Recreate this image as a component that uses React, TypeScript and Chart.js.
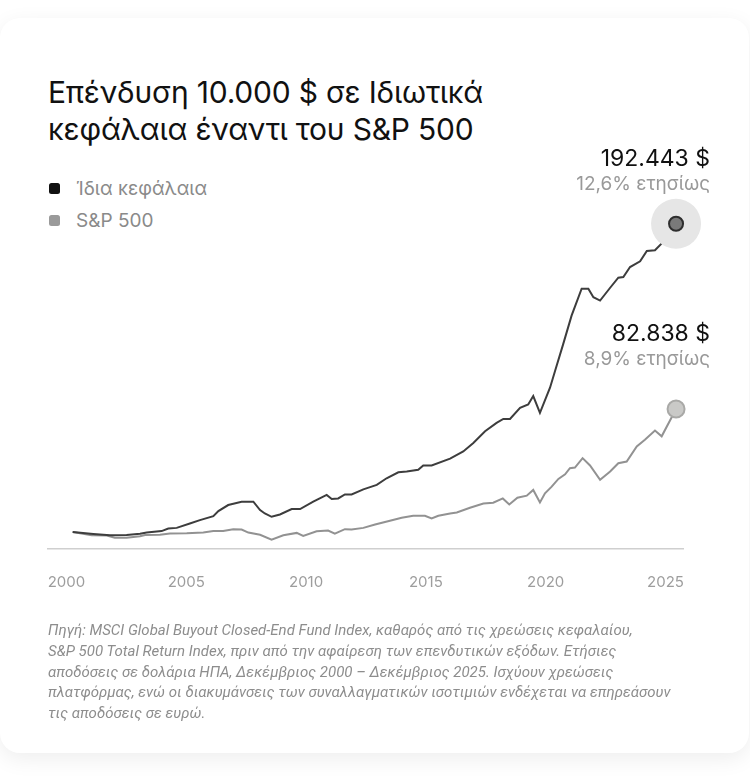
import React, { useEffect, useRef } from "react";
import { Chart, registerables } from "chart.js";

Chart.register(...registerables);

const titleLines = ["Επένδυση 10.000 $ σε Ιδιωτικά", "κεφάλαια έναντι του S&P 500"];
const seriesNames = ["Ίδια κεφάλαια", "S&P 500"];
const endValueLabels = ["192.443 $", "82.838 $"];
const endRateLabels = ["12,6% ετησίως", "8,9% ετησίως"];
const xTickYears = [2000, 2005, 2010, 2015, 2020, 2025];
const footnoteLines = [
  "Πηγή: MSCI Global Buyout Closed-End Fund Index, καθαρός από τις χρεώσεις κεφαλαίου,",
  "S&P 500 Total Return Index, πριν από την αφαίρεση των επενδυτικών εξόδων. Ετήσιες",
  "αποδόσεις σε δολάρια ΗΠΑ, Δεκέμβριος 2000 – Δεκέμβριος 2025. Ισχύουν χρεώσεις",
  "πλατφόρμας, ενώ οι διακυμάνσεις των συναλλαγματικών ισοτιμιών ενδέχεται να επηρεάσουν",
  "τις αποδόσεις σε ευρώ.",
];

const privateYears = [
  2000.26, 2001.12, 2001.82, 2002.51, 2003.07, 2003.35, 2003.97, 2004.25, 2004.6, 2005.15,
  2005.57, 2006.13, 2006.34, 2006.75, 2007.31, 2007.8, 2008.08, 2008.28, 2008.56, 2008.91,
  2009.4, 2009.75, 2010.3, 2010.86, 2011.07, 2011.34, 2011.62, 2011.9, 2012.39, 2012.95,
  2013.36, 2013.85, 2014.2, 2014.68, 2014.89, 2015.24, 2016.01, 2016.56, 2016.98, 2017.47,
  2017.95, 2018.23, 2018.51, 2018.93, 2019.27, 2019.48, 2019.76, 2020.18, 2020.39, 2020.73,
  2021.08, 2021.5, 2021.78, 2021.99, 2022.27, 2022.69, 2023.03, 2023.24, 2023.52, 2023.94,
  2024.22, 2024.56, 2024.84, 2025.05, 2025.44,
];
const privateValues = [
  10000, 8900, 8200, 8300, 9000, 9700, 10600, 12083, 12500, 15060,
  17083, 19464, 22440, 26012, 27976, 27976, 23036, 21012, 19048, 20417,
  23631, 23631, 27976, 31964, 29583, 29940, 32321, 32321, 35298, 37917,
  41845, 45417, 45833, 46845, 49405, 49405, 53500, 57738, 62679, 69643,
  74583, 76964, 76964, 83512, 85536, 90476, 80536, 95417, 105357, 121250,
  138095, 153988, 153988, 148988, 147024, 154583, 160536, 160893, 166845, 170238,
  176369, 176786, 180774, 186726, 192443,
];

const spYears = [
  2000.26, 2001.05, 2001.68, 2002.02, 2002.51, 2003.07, 2003.28, 2003.9, 2004.32, 2005.02,
  2005.71, 2006.13, 2006.54, 2006.96, 2007.31, 2007.59, 2008.08, 2008.56, 2009.05, 2009.61,
  2009.88, 2010.44, 2010.92, 2011.2, 2011.62, 2011.9, 2012.39, 2012.88, 2013.5, 2013.99,
  2014.47, 2014.96, 2015.24, 2015.52, 2016.01, 2016.29, 2016.84, 2017.4, 2017.81, 2018.21,
  2018.48, 2018.82, 2019.21, 2019.48, 2019.76, 2019.97, 2020.25, 2020.53, 2020.81, 2021.01,
  2021.22, 2021.54, 2021.85, 2022.27, 2022.69, 2023.03, 2023.38, 2023.8, 2024.14, 2024.56,
  2024.84, 2025.44,
];
const spValues = [
  10000, 8200, 8000, 6700, 6600, 7600, 8300, 8400, 9100, 9300,
  9800, 10600, 10714, 11726, 11488, 9702, 8450, 5536, 8155, 9524,
  7738, 10536, 10893, 9107, 11726, 11488, 12500, 14464, 16667, 18452,
  19643, 19643, 18036, 19643, 21012, 21607, 24405, 26964, 27381, 29940,
  26369, 30357, 31548, 34940, 27560, 32917, 36905, 41488, 44226, 47798,
  48214, 53750, 49405, 40893, 45833, 50774, 51786, 60714, 64702, 70060,
  66667, 82838,
];

const lineColors = ["#3d3d3d", "#929292"];
const legendColors = ["#111111", "#9a9a9a"];

const FONT = "Inter, Roboto, sans-serif";
const NOTE_FONT = "Roboto, sans-serif";

const endPointPlugin = {
  id: "endPoints",
  afterDatasetsDraw(chart: any) {
    const ctx = chart.ctx;
    chart.data.datasets.forEach((ds: any, i: number) => {
      const meta = chart.getDatasetMeta(i);
      const pt = meta.data[meta.data.length - 1];
      if (!pt) return;
      const x = pt.x;
      const y = pt.y;
      ctx.save();
      if (i === 0) {
        ctx.beginPath();
        ctx.arc(x, y, 25, 0, Math.PI * 2);
        ctx.fillStyle = "#e6e6e6";
        ctx.fill();
        ctx.beginPath();
        ctx.arc(x, y, 7, 0, Math.PI * 2);
        ctx.fillStyle = "#7a7a7a";
        ctx.fill();
        ctx.lineWidth = 2;
        ctx.strokeStyle = "#2e2e2e";
        ctx.stroke();
      } else {
        ctx.beginPath();
        ctx.arc(x, y, 8.5, 0, Math.PI * 2);
        ctx.fillStyle = "#c9c9c7";
        ctx.fill();
        ctx.lineWidth = 2;
        ctx.strokeStyle = "#a9a9a7";
        ctx.stroke();
      }
      const lx = x + 34;
      const off1 = i === 0 ? -65 : -75;
      const off2 = i === 0 ? -39 : -50;
      ctx.textAlign = "right";
      ctx.textBaseline = "middle";
      ctx.font = `400 23px ${FONT}`;
      ctx.fillStyle = "#111111";
      ctx.fillText(endValueLabels[i], lx, y + off1);
      ctx.font = `400 19px ${FONT}`;
      ctx.fillStyle = "#999999";
      ctx.fillText(endRateLabels[i], lx, y + off2);
      ctx.restore();
    });
  },
};

function ChartCanvas() {
  const ref = useRef<HTMLCanvasElement | null>(null);
  useEffect(() => {
    if (!ref.current) return;
    const chart = new Chart(ref.current, {
      type: "line",
      data: {
        datasets: [
          {
            label: seriesNames[0],
            data: privateYears.map((x, i) => ({ x, y: privateValues[i] })),
            borderColor: lineColors[0],
            borderWidth: 2,
            pointRadius: 0,
            tension: 0,
            fill: false,
          },
          {
            label: seriesNames[1],
            data: spYears.map((x, i) => ({ x, y: spValues[i] })),
            borderColor: lineColors[1],
            borderWidth: 2,
            pointRadius: 0,
            tension: 0,
            fill: false,
          },
        ],
      },
      options: {
        animation: false,
        responsive: false,
        maintainAspectRatio: false,
        events: [],
        layout: { padding: { left: 48, right: 67, top: 81, bottom: 10 } },
        plugins: { legend: { display: false }, tooltip: { enabled: false } },
        scales: {
          x: {
            type: "linear",
            min: 1999.23,
            max: 2025.73,
            afterBuildTicks: (scale: any) => {
              scale.ticks = xTickYears.map((v) => ({ value: v }));
            },
            grid: { display: false, drawTicks: false },
            border: { display: true, color: "#cfcfcf", width: 1.5 },
            ticks: {
              padding: 24,
              color: "#9d9d9d",
              font: { family: FONT, size: 15 },
              callback: (v: any) => String(v),
              maxRotation: 0,
              autoSkip: false,
            },
          },
          y: {
            display: false,
            min: 0,
            max: 200000,
          },
        },
      },
      plugins: [endPointPlugin],
    });
    return () => chart.destroy();
  }, []);
  return (
    <canvas
      ref={ref}
      width={750}
      height={495}
      style={{ position: "absolute", left: 0, top: 130, width: 750, height: 495 }}
    />
  );
}

export default function App() {
  useEffect(() => {
    document.body.style.margin = "0";
    document.body.style.background = "#ffffff";
  }, []);
  return (
    <div style={{ position: "relative", width: 750, height: 776, overflow: "hidden", background: "#fff", fontFamily: FONT }}>
      <div
        style={{
          position: "absolute",
          left: 0,
          top: 18,
          width: 749,
          height: 735,
          borderRadius: 20,
          background: "#fff",
          boxShadow: "0 6px 22px rgba(0,0,0,0.07)",
        }}
      />
      <div style={{ position: "absolute", left: 48, top: 74, fontSize: 30, lineHeight: "37px", color: "#111", fontWeight: 400, whiteSpace: "nowrap", letterSpacing: -0.2 }}>
        {titleLines.map((t, i) => (
          <div key={i}>{t}</div>
        ))}
      </div>
      <div style={{ position: "absolute", left: 49, top: 172 }}>
        {seriesNames.map((n, i) => (
          <div key={i} style={{ display: "flex", alignItems: "center", height: 32 }}>
            <span style={{ display: "inline-block", width: 11, height: 11, borderRadius: 2.5, background: legendColors[i], marginRight: 16 }} />
            <span style={{ fontSize: 19, color: "#8a8a8a" }}>{n}</span>
          </div>
        ))}
      </div>
      <ChartCanvas />
      <div style={{ position: "absolute", left: 48, top: 620, fontFamily: NOTE_FONT, fontSize: 15, lineHeight: "20.8px", color: "#8d8d8d", fontStyle: "italic", whiteSpace: "nowrap" }}>
        {footnoteLines.map((t, i) => (
          <div key={i}>{t}</div>
        ))}
      </div>
    </div>
  );
}
